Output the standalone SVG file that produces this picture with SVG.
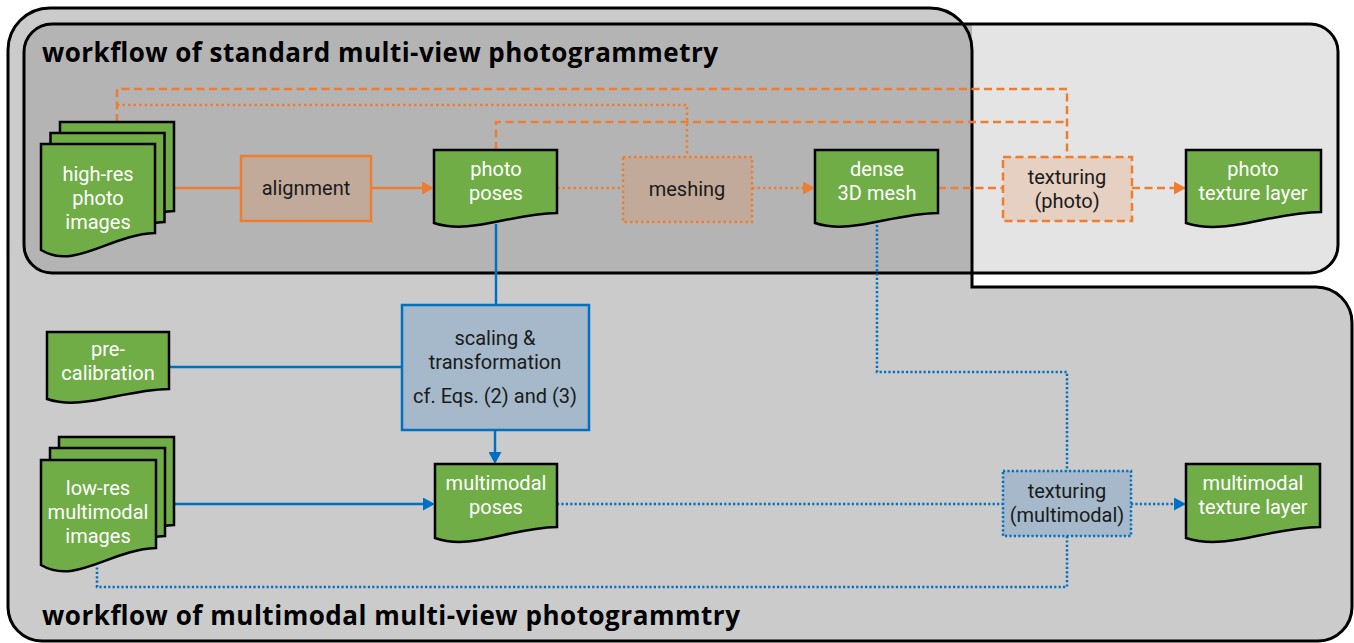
<svg xmlns="http://www.w3.org/2000/svg" width="1354" height="643" viewBox="0 0 1354 643">
<style>
.doc{fill:#70ad47;stroke:#000;stroke-width:2.5;stroke-linejoin:miter}
.wt{fill:#fff;font-family:Roboto,"Liberation Sans",sans-serif;font-size:20px;text-anchor:middle}
.bt{fill:#1a1a1a;font-family:Roboto,"Liberation Sans",sans-serif;font-size:20px;text-anchor:middle}
.title{fill:#000;font-family:"Open Sans","Liberation Sans",sans-serif;font-size:26px;font-weight:bold}
.or{fill:none;stroke:#ed7d31;stroke-width:2.5}
.bl{fill:none;stroke:#0070c0;stroke-width:2.5}
.dot{stroke-dasharray:2.5 3}
.bdot{stroke-dasharray:2.2 2.2}
.dash{stroke-dasharray:8 4.5}
.procO{fill:#c2aa9a;stroke:#ed7d31;stroke-width:2.5}
.procL{fill:#e6d0c1;stroke:#ed7d31;stroke-width:2.5}
.procB{fill:#a5b9cb;stroke:#0070c0;stroke-width:2.5}
</style>
<defs>
<marker id="ao" viewBox="0 0 12 13" refX="0" refY="6.5" markerWidth="12" markerHeight="13" markerUnits="userSpaceOnUse" orient="auto"><path d="M0,0 L12,6.5 L0,13 Z" fill="#ed7d31"/></marker>
<marker id="ab" viewBox="0 0 12 13" refX="0" refY="6.5" markerWidth="12" markerHeight="13" markerUnits="userSpaceOnUse" orient="auto"><path d="M0,0 L12,6.5 L0,13 Z" fill="#0070c0"/></marker>
<clipPath id="leftclip"><rect x="0" y="0" width="972" height="643"/></clipPath>
</defs>
<rect width="1354" height="643" fill="#fff"/>
<g id="background">
<path d="M8,50 A42,42 0 0 1 50,8 H930 A42,42 0 0 1 972,50 V287 H1316 A36,36 0 0 1 1352,323 V607 A34,34 0 0 1 1318,641 H42 A34,34 0 0 1 8,607 Z" fill="#cbcbcb"/>
<rect x="24" y="24" width="1314" height="249" rx="28" fill="#e4e4e4"/>
<rect x="24" y="24" width="1314" height="249" rx="28" fill="#b4b4b4" clip-path="url(#leftclip)"/>
<rect x="24" y="24" width="1314" height="249" rx="28" fill="none" stroke="#000" stroke-width="3"/>
<path d="M8,50 A42,42 0 0 1 50,8 H930 A42,42 0 0 1 972,50 V287 H1316 A36,36 0 0 1 1352,323 V607 A34,34 0 0 1 1318,641 H42 A34,34 0 0 1 8,607 Z" fill="none" stroke="#000" stroke-width="3"/>
<text class="title" x="42" y="62" textLength="676" lengthAdjust="spacing">workflow of standard multi-view photogrammetry</text>
<text class="title" x="42" y="625" textLength="698" lengthAdjust="spacing">workflow of multimodal multi-view photogrammtry</text>
</g>
<g id="connectors">
<path class="or" d="M174,188 H241"/>
<path class="or" d="M371,188 H422" marker-end="url(#ao)"/>
<path class="or dot" d="M557,188 H623"/>
<path class="or dot" d="M752,188 H803" marker-end="url(#ao)"/>
<path class="or dash" d="M938,188 H1003"/>
<path class="or dash" d="M1132,188 H1174" marker-end="url(#ao)"/>
<path class="or dash" d="M117,122 V89 H1067 V157"/>
<path class="or dash" d="M496,150 V122 H1067"/>
<path class="or dot" d="M117,105 H687 V157"/>
<path class="bl" d="M496,224 V305"/>
<path class="bl" d="M169,367 H402"/>
<path class="bl" d="M495,430 V452" marker-end="url(#ab)"/>
<path class="bl" d="M175,504 H423" marker-end="url(#ab)"/>
<path class="bl bdot" d="M557,504 H1003"/>
<path class="bl bdot" d="M1131,504 H1174" marker-end="url(#ab)"/>
<path class="bl bdot" d="M877,225 V372 H1067 V471"/>
<path class="bl bdot" d="M1067,536 V587 H97 V566"/>
</g>
<g id="high-res-photo-images">
<path class="doc" d="M60,122 H174 V211 C128.4,212.7 94.2,248.4 60,228 Z"/>
<path class="doc" d="M50.5,133 H164.5 V222 C118.9,223.7 84.7,259.4 50.5,239 Z"/>
<path class="doc" d="M41,144 H155 V233 C109.4,234.7 75.2,270.4 41,250 Z"/>
<text class="wt" y="181"><tspan x="98">high-res</tspan><tspan x="98" dy="24">photo</tspan><tspan x="98" dy="24">images</tspan></text>
</g>
<g id="alignment">
<rect class="procO" x="241" y="156" width="130" height="65"/>
<text class="bt" x="306" y="195">alignment</text>
</g>
<g id="photo-poses">
<path class="doc" d="M434,150 H557 V213 C507.8,214 470.9,235 434,223 Z"/>
<text class="wt" y="176"><tspan x="496">photo</tspan><tspan x="496" dy="23.6">poses</tspan></text>
</g>
<g id="meshing">
<rect class="procO dot" x="623" y="157" width="129" height="65"/>
<text class="bt" x="687" y="196">meshing</text>
</g>
<g id="dense-3d-mesh">
<path class="doc" d="M815,150 H938 V213 C888.8,214 851.9,235 815,223 Z"/>
<text class="wt" y="176"><tspan x="877">dense</tspan><tspan x="877" dy="23.6">3D mesh</tspan></text>
</g>
<g id="texturing-photo">
<rect class="procL dash" x="1003" y="157" width="129" height="64"/>
<text class="bt" y="184"><tspan x="1067">texturing</tspan><tspan x="1067" dy="23.6">(photo)</tspan></text>
</g>
<g id="photo-texture-layer">
<path class="doc" d="M1186,150 H1321 V212 C1267,213 1226.5,236 1186,223 Z"/>
<text class="wt" y="176"><tspan x="1253">photo</tspan><tspan x="1253" dy="23.6">texture layer</tspan></text>
</g>
<g id="pre-calibration">
<path class="doc" d="M47,332 H169 V389 C120.2,390 83.6,411 47,399 Z"/>
<text class="wt" y="356"><tspan x="108">pre-</tspan><tspan x="108" dy="23.6">calibration</tspan></text>
</g>
<g id="scaling-transformation">
<rect class="procB" x="402" y="305" width="187" height="125"/>
<text class="bt" y="345"><tspan x="495">scaling &amp;</tspan><tspan x="495" dy="23.6">transformation</tspan><tspan x="495" dy="34.4">cf. Eqs. (2) and (3)</tspan></text>
</g>
<g id="low-res-multimodal-images">
<path class="doc" d="M59,437 H174 V525 C128,526.7 93.5,562.4 59,542 Z"/>
<path class="doc" d="M50,448 H165 V536 C119,537.7 84.5,573.4 50,553 Z"/>
<path class="doc" d="M41,460 H156 V548 C110,549.7 75.5,585.4 41,565 Z"/>
<text class="wt" y="495"><tspan x="98">low-res</tspan><tspan x="98" dy="24">multimodal</tspan><tspan x="98" dy="24">images</tspan></text>
</g>
<g id="multimodal-poses">
<path class="doc" d="M435,464 H557 V527 C508.2,528 471.6,551 435,538 Z"/>
<text class="wt" y="490"><tspan x="496">multimodal</tspan><tspan x="496" dy="24">poses</tspan></text>
</g>
<g id="texturing-multimodal">
<rect class="procB bdot" x="1003" y="471" width="128" height="65"/>
<text class="bt" y="498"><tspan x="1067">texturing</tspan><tspan x="1067" dy="24">(multimodal)</tspan></text>
</g>
<g id="multimodal-texture-layer">
<path class="doc" d="M1186,464 H1320 V527 C1266.4,528 1226.2,551 1186,538 Z"/>
<text class="wt" y="490"><tspan x="1253">multimodal</tspan><tspan x="1253" dy="24">texture layer</tspan></text>
</g>
</svg>
